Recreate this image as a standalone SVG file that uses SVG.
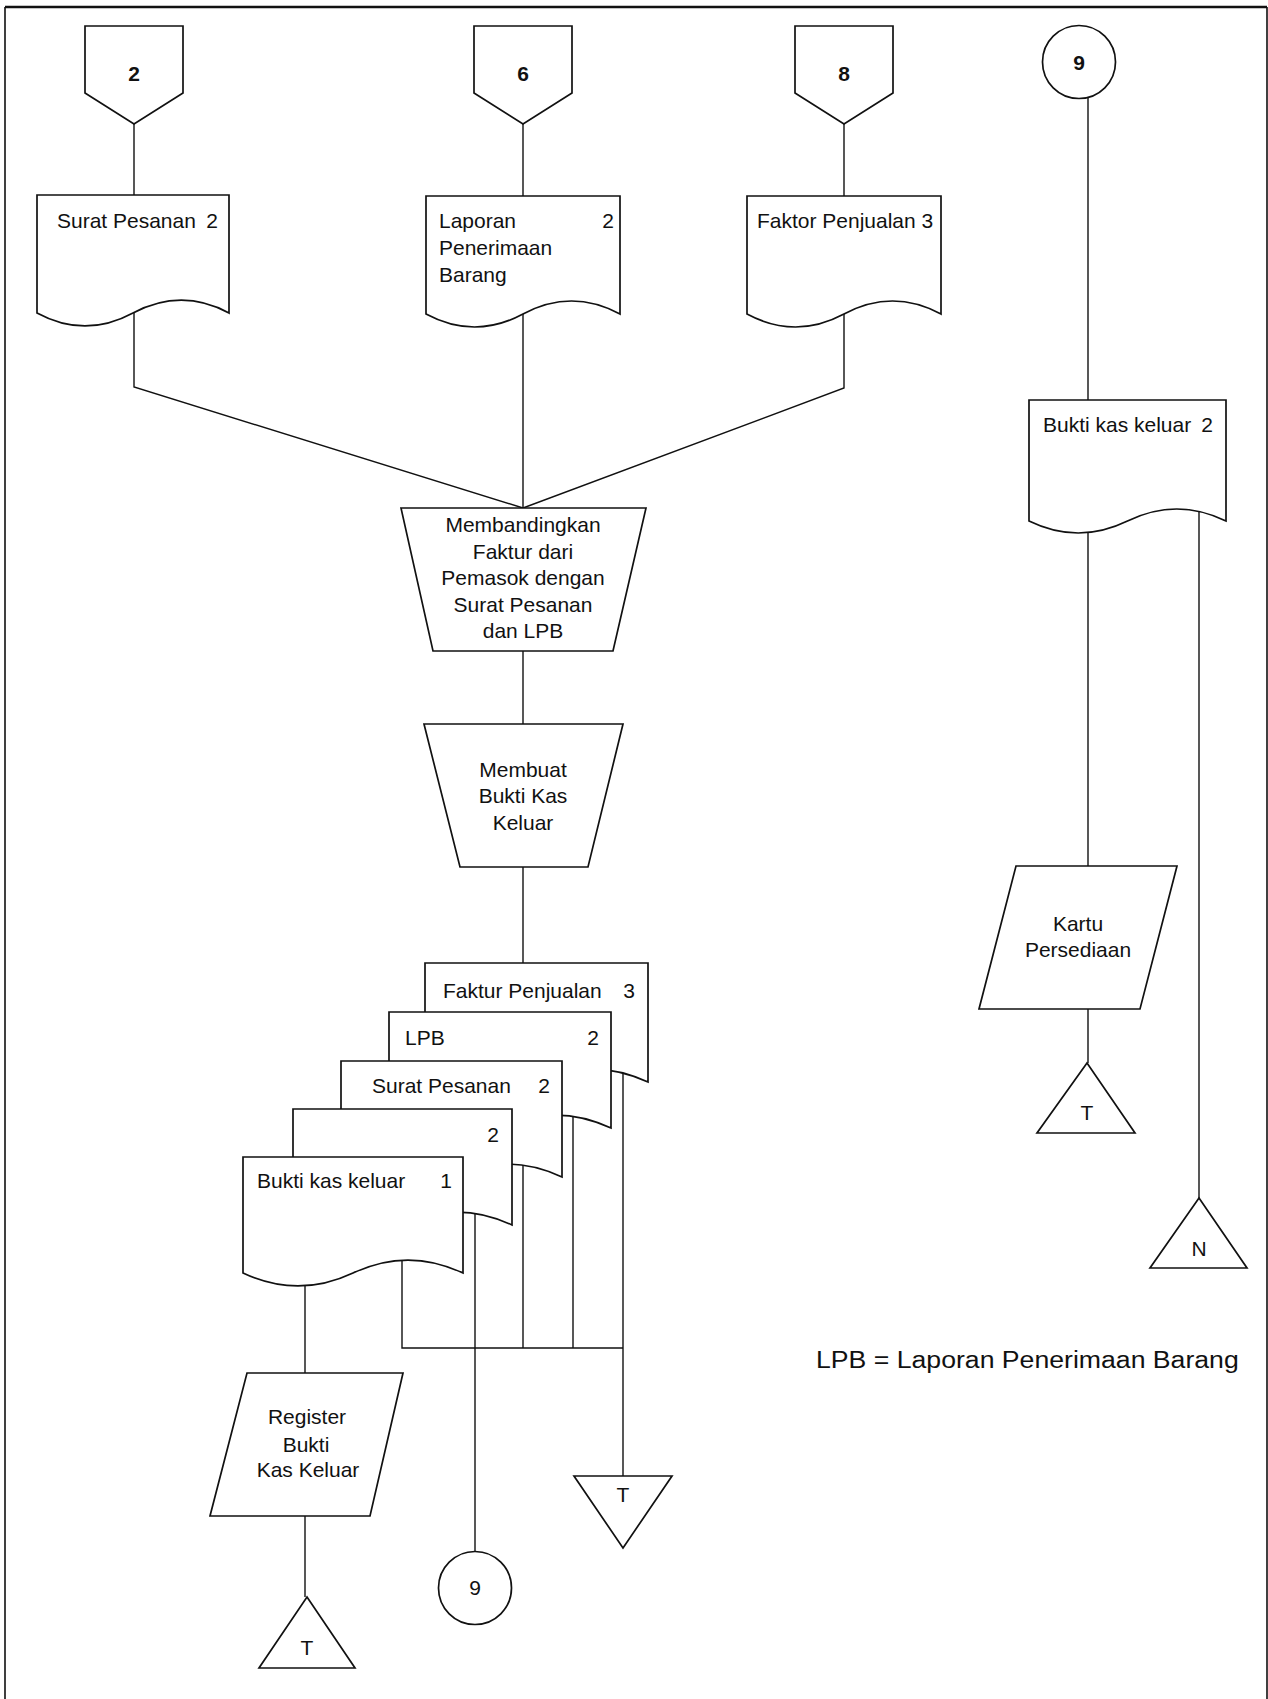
<svg xmlns="http://www.w3.org/2000/svg" width="1268" height="1699" viewBox="0 0 1268 1699">
<style>
.s{fill:#fff;stroke:#111;stroke-width:1.7;stroke-linejoin:miter}
.c{fill:none;stroke:#111;stroke-width:1.4}
.t{font-family:"Liberation Sans",Arial,sans-serif;font-size:20px;fill:#111}
.m{text-anchor:middle}
.e{text-anchor:end}
.b{font-weight:bold}
.lg{font-family:"Liberation Sans",Arial,sans-serif;font-size:23.5px;fill:#111}
</style>
<rect width="1268" height="1699" fill="#fff"/>
<g id="frame">
<path d="M5,1699 V7 M1267,7 V1699" fill="none" stroke="#111" stroke-width="1.6"/>
<line x1="5" y1="7" x2="1267" y2="7" stroke="#111" stroke-width="2.6"/>
</g>
<g id="connectors">
<path class="c" d="M134,124 V195"/>
<path class="c" d="M134,313 V387 L523,508"/>
<path class="c" d="M523,124 V196"/>
<path class="c" d="M523,314 V508"/>
<path class="c" d="M844,124 V196"/>
<path class="c" d="M844,314 V388 L523,508"/>
<path class="c" d="M523,651 V724"/>
<path class="c" d="M523,867 V963"/>
<path class="c" d="M1088,97 V400"/>
<path class="c" d="M1088,521 V866"/>
<path class="c" d="M1088,1009 V1063"/>
<path class="c" d="M1199,505 V1198"/>
<path class="c" d="M623,1070 V1476"/>
<path class="c" d="M573,1115 V1348"/>
<path class="c" d="M523,1165 V1348"/>
<path class="c" d="M475,1210 V1552"/>
<path class="c" d="M402,1255 V1348 H623"/>
<path class="c" d="M305,1280 V1373"/>
<path class="c" d="M305,1516 V1597"/>
</g>
<g id="off-page-2">
<path class="s" d="M85,26 H183 V93 L134,124 L85,93 Z"/>
<text class="t m b" transform="translate(134 81) scale(1.05 1)">2</text>
</g>
<g id="off-page-6">
<path class="s" d="M474,26 H572 V93 L523,124 L474,93 Z"/>
<text class="t m b" transform="translate(523 81) scale(1.05 1)">6</text>
</g>
<g id="off-page-8">
<path class="s" d="M795,26 H893 V93 L844,124 L795,93 Z"/>
<text class="t m b" transform="translate(844 81) scale(1.05 1)">8</text>
</g>
<g id="circle-9-top">
<circle class="s" cx="1079" cy="62" r="36.5"/>
<text class="t m b" transform="translate(1079 70) scale(1.05 1)">9</text>
</g>
<g id="doc-surat-pesanan">
<path class="s" d="M37,195 H229 V313 C197,295.7 165.7,295.7 133,313 C101,330.3 69,330.3 37,313 Z"/>
<text class="t" transform="translate(57 228) scale(1.05 1)">Surat Pesanan</text>
<text class="t e" transform="translate(218 228) scale(1.05 1)">2</text>
</g>
<g id="doc-laporan">
<path class="s" d="M426,196 H620 V314 C587.7,296.7 555.3,296.7 523,314 C490.7,331.3 458.3,331.3 426,314 Z"/>
<text class="t" transform="translate(439 228) scale(1.05 1)">Laporan</text>
<text class="t" transform="translate(439 255) scale(1.05 1)">Penerimaan</text>
<text class="t" transform="translate(439 282) scale(1.05 1)">Barang</text>
<text class="t e" transform="translate(614 228) scale(1.05 1)">2</text>
</g>
<g id="doc-faktor">
<path class="s" d="M747,196 H941 V314 C908.7,296.7 876.3,296.7 844,314 C811.7,331.3 779.3,331.3 747,314 Z"/>
<text class="t" transform="translate(757 228) scale(1.05 1)">Faktor Penjualan 3</text>
</g>
<g id="proc-membandingkan">
<path class="s" d="M401,508 H646 L613,651 H433 Z"/>
<text class="t m" transform="translate(523 532) scale(1.05 1)">Membandingkan</text>
<text class="t m" transform="translate(523 559) scale(1.05 1)">Faktur dari</text>
<text class="t m" transform="translate(523 585) scale(1.05 1)">Pemasok dengan</text>
<text class="t m" transform="translate(523 612) scale(1.05 1)">Surat Pesanan</text>
<text class="t m" transform="translate(523 638) scale(1.05 1)">dan LPB</text>
</g>
<g id="proc-membuat">
<path class="s" d="M424,724 H623 L588,867 H460 Z"/>
<text class="t m" transform="translate(523 777) scale(1.05 1)">Membuat</text>
<text class="t m" transform="translate(523 803) scale(1.05 1)">Bukti Kas</text>
<text class="t m" transform="translate(523 830) scale(1.05 1)">Keluar</text>
</g>
<g id="doc-stack-faktur">
<path class="s" d="M425,963 H648 V1082 C610.8,1064.7 573.7,1064.7 536.5,1082 C499.3,1099.3 462.2,1099.3 425,1082 Z"/>
<text class="t" transform="translate(443 998) scale(1.05 1)">Faktur Penjualan</text>
<text class="t e" transform="translate(635 998) scale(1.05 1)">3</text>
</g>
<g id="doc-stack-lpb">
<path class="s" d="M389,1012 H611 V1128 C574,1110.7 537,1110.7 500,1128 C463,1145.3 426,1145.3 389,1128 Z"/>
<text class="t" transform="translate(405 1045) scale(1.05 1)">LPB</text>
<text class="t e" transform="translate(599 1045) scale(1.05 1)">2</text>
</g>
<g id="doc-stack-sp">
<path class="s" d="M341,1061 H562 V1177 C525.2,1159.7 488.3,1159.7 451.5,1177 C414.7,1194.3 377.8,1194.3 341,1177 Z"/>
<text class="t" transform="translate(372 1093) scale(1.05 1)">Surat Pesanan</text>
<text class="t e" transform="translate(550 1093) scale(1.05 1)">2</text>
</g>
<g id="doc-stack-blank">
<path class="s" d="M293,1109 H512 V1225 C475.5,1207.7 439,1207.7 402.5,1225 C366,1242.3 329.5,1242.3 293,1225 Z"/>
<text class="t e" transform="translate(499 1142) scale(1.05 1)">2</text>
</g>
<g id="doc-bukti-kas-keluar-1">
<path class="s" d="M243,1157 H463 V1273 C426.3,1255.7 389.7,1255.7 353,1273 C316.3,1290.3 279.7,1290.3 243,1273 Z"/>
<text class="t" transform="translate(257 1188) scale(1.05 1)">Bukti kas keluar</text>
<text class="t e" transform="translate(452 1188) scale(1.05 1)">1</text>
</g>
<g id="register">
<path class="s" d="M247,1373 H403 L370,1516 H210 Z"/>
<text class="t m" transform="translate(307 1424) scale(1.05 1)">Register</text>
<text class="t m" transform="translate(306 1452) scale(1.05 1)">Bukti</text>
<text class="t m" transform="translate(308 1477) scale(1.05 1)">Kas Keluar</text>
</g>
<g id="file-t-register">
<path class="s" d="M307,1597 L355,1668 H259 Z"/>
<text class="t m" transform="translate(307 1655) scale(1.05 1)">T</text>
</g>
<g id="circle-9-bottom">
<circle class="s" cx="475" cy="1588" r="36.5"/>
<text class="t m" transform="translate(475 1595) scale(1.05 1)">9</text>
</g>
<g id="file-t-stack">
<path class="s" d="M574,1476 H672 L623,1548 Z"/>
<text class="t m" transform="translate(623 1502) scale(1.05 1)">T</text>
</g>
<g id="doc-bukti-kas-keluar-2">
<path class="s" d="M1029,400 H1226 V521 C1193.2,505 1160.3,505 1127.5,521 C1094.7,537 1061.8,537 1029,521 Z"/>
<text class="t" transform="translate(1043 432) scale(1.05 1)">Bukti kas keluar</text>
<text class="t e" transform="translate(1213 432) scale(1.05 1)">2</text>
</g>
<g id="kartu-persediaan">
<path class="s" d="M1016,866 H1177 L1140,1009 H979 Z"/>
<text class="t m" transform="translate(1078 931) scale(1.05 1)">Kartu</text>
<text class="t m" transform="translate(1078 957) scale(1.05 1)">Persediaan</text>
</g>
<g id="file-t-kartu">
<path class="s" d="M1087,1063 L1135,1133 H1037 Z"/>
<text class="t m" transform="translate(1087 1120) scale(1.05 1)">T</text>
</g>
<g id="file-n">
<path class="s" d="M1199,1198 L1247,1268 H1150 Z"/>
<text class="t m" transform="translate(1199 1256) scale(1.05 1)">N</text>
</g>
<g id="legend">
<text class="lg" transform="translate(816 1368) scale(1.134 1)">LPB = Laporan Penerimaan Barang</text>
</g>
</svg>
